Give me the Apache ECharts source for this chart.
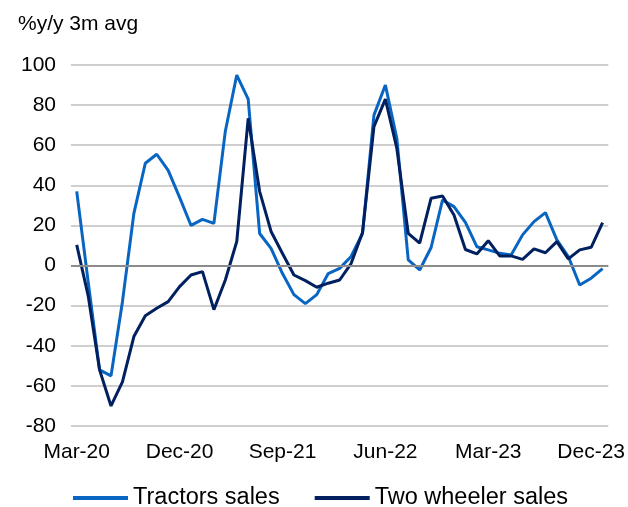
<!DOCTYPE html>
<html>
<head>
<meta charset="UTF-8">
<title>Tractors and two wheeler sales</title>
<script src="https://cdn.jsdelivr.net/npm/echarts@6/dist/echarts.min.js"></script>
<style>
    body { margin: 0; padding: 0; background: #fff; }
    #chart { width: 628px; height: 507px; }
</style>
</head>
<body>
<div id="chart"></div>
<script>
    // monthly, Mar-20 .. Jan-24
    const months = ['Mar-20','Apr-20','May-20','Jun-20','Jul-20','Aug-20','Sep-20','Oct-20','Nov-20','Dec-20',
        'Jan-21','Feb-21','Mar-21','Apr-21','May-21','Jun-21','Jul-21','Aug-21','Sep-21','Oct-21','Nov-21','Dec-21',
        'Jan-22','Feb-22','Mar-22','Apr-22','May-22','Jun-22','Jul-22','Aug-22','Sep-22','Oct-22','Nov-22','Dec-22',
        'Jan-23','Feb-23','Mar-23','Apr-23','May-23','Jun-23','Jul-23','Aug-23','Sep-23','Oct-23','Nov-23','Dec-23',
        'Jan-24'];
    const tractors = [37, -8, -52, -55, -18, 26, 51, 55.5, 47.5, 34,
        20, 23, 21, 67, 95, 83, 16, 8.6, -4, -14.5, -19, -14.5,
        -4, -1.4, 4.5, 16, 75, 90, 63.5, 2.8, -2.2, 9, 32.7, 29.4,
        21.5, 9.4, 7.8, 6.1, 5.3, 15.3, 21.9, 26.4, 12.8, 4.5, -9.7, -6.3,
        -1.5];
    const twoWheeler = [10.3, -15, -52, -70, -58, -35.4, -25, -21.3, -18, -10.5,
        -4.7, -3, -22, -7.2, 12, 73.4, 37, 17, 6, -4.7, -7.5, -10.8,
        -8.8, -7.2, 1, 16.5, 69.3, 83, 58.5, 16, 11.2, 33.6, 34.7, 25.2,
        8, 5.8, 12.4, 4.8, 4.8, 3.1, 8.3, 6.4, 11.9, 3.3, 7.8, 9.1,
        21.4];
    const yTicks = { min: -80, max: 100, step: 20 };

    const chart = echarts.init(document.getElementById('chart'));
    const font = 'Liberation Sans, Arial, sans-serif';
    const gridGray = '#bfbfbf';

    chart.setOption({
        animation: false,
        title: {
            text: '%y/y 3m avg',
            left: 13, top: 9,
            textStyle: { fontFamily: font, fontSize: 21, fontWeight: 'normal', color: '#000' }
        },
        legend: {
            left: 68, top: 481,
            icon: 'rect',
            itemWidth: 55, itemHeight: 4, itemGap: 35,
            textStyle: { fontFamily: font, fontSize: 23.5, color: '#000' },
            data: ['Tractors sales', 'Two wheeler sales']
        },
        grid: { left: 71, right: 19, top: 65, bottom: 81, containLabel: false },
        xAxis: {
            type: 'category',
            data: months,
            boundaryGap: true,
            axisLine: { show: false },
            axisTick: { show: false },
            axisLabel: {
                interval: 8, margin: 16,
                fontFamily: font, fontSize: 21, color: '#000'
            },
            splitLine: { show: false }
        },
        yAxis: {
            type: 'value',
            min: yTicks.min, max: yTicks.max, interval: yTicks.step,
            axisLine: { show: false },
            axisTick: { show: false },
            axisLabel: { margin: 15, fontFamily: font, fontSize: 21, color: '#000' },
            splitLine: { lineStyle: { color: gridGray, width: 1.5 } }
        },
        series: [
            {
                name: 'Tractors sales', type: 'line', data: tractors,
                symbol: 'none',
                lineStyle: { color: '#0866c2', width: 3 },
                itemStyle: { color: '#0866c2' },
                markLine: {
                    silent: true, symbol: 'none', label: { show: false },
                    lineStyle: { color: '#8c8c8c', width: 2, type: 'solid' },
                    data: [{ yAxis: 0 }]
                },
                z: 3
            },
            {
                name: 'Two wheeler sales', type: 'line', data: twoWheeler,
                symbol: 'none',
                lineStyle: { color: '#00205f', width: 3 },
                itemStyle: { color: '#00205f' },
                z: 4
            }
        ]
    });
</script>
</body>
</html>
